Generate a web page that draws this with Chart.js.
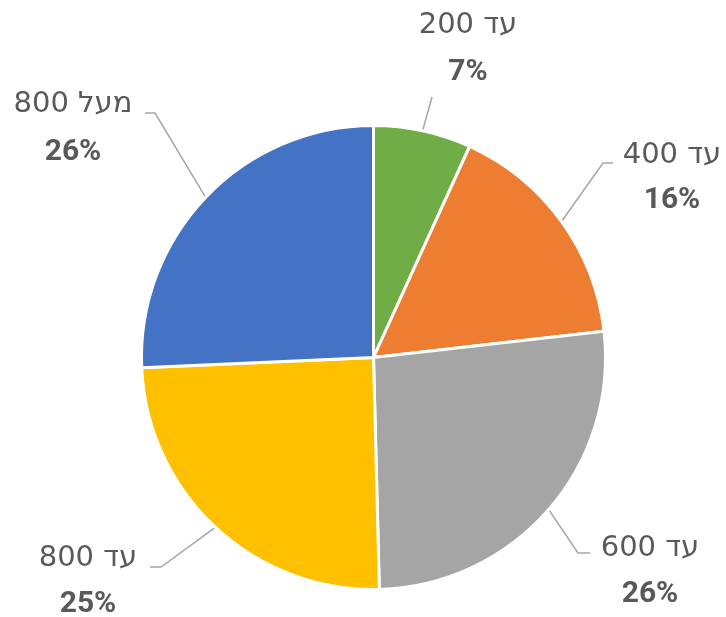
<!DOCTYPE html>
<html>
<head>
<meta charset="utf-8">
<script src="https://cdn.jsdelivr.net/npm/chart.js@4/dist/chart.umd.min.js"></script>
<style>
html,body{margin:0;padding:0;background:#fff;}
#wrap{width:726px;height:617px;position:relative;}
</style>
</head>
<body>
<div id="wrap"><canvas id="c" width="726" height="617"></canvas></div>
<script>
const categories = ["עד 200", "עד 400", "עד 600", "עד 800", "מעל 800"];
const shareValues = [6.8, 16.4, 26.4, 24.7, 25.7];
const sliceColors = ["#70AD47", "#ED7D31", "#A5A5A5", "#FFC000", "#4472C4"];

// Label layout (elbow point of leader, end of horizontal tail, label centre)
const labelLayout = [
  {elbow:[432,97], tail:null, cx:468, cy1:25, cy2:72},
  {elbow:[603,163], tail:[613,163], cx:672, cy1:155, cy2:200},
  {elbow:[578,553], tail:[590,553], cx:650, cy1:548, cy2:594},
  {elbow:[161,567], tail:[150,567], cx:88, cy1:558, cy2:604},
  {elbow:[155,113], tail:[145,113], cx:73, cy1:104, cy2:152}
];

const labelPlugin = {
  id: 'outerLabels',
  afterDatasetsDraw(chart) {
    const ctx = chart.ctx;
    const meta = chart.getDatasetMeta(0);
    const ds = chart.data.datasets[0];
    const total = ds.data.reduce((a, b) => a + b, 0);
    meta.data.forEach((arc, i) => {
      const p = arc.getProps(['x','y','startAngle','endAngle','outerRadius'], true);
      const mid = (p.startAngle + p.endAngle) / 2;
      const r = p.outerRadius + 1.5;
      const ex = p.x + Math.cos(mid) * r;
      const ey = p.y + Math.sin(mid) * r;
      const L = labelLayout[i];
      ctx.save();
      ctx.strokeStyle = '#A6A6A6';
      ctx.lineWidth = 1.5;
      ctx.beginPath();
      ctx.moveTo(ex, ey);
      ctx.lineTo(L.elbow[0], L.elbow[1]);
      if (L.tail) ctx.lineTo(L.tail[0], L.tail[1]);
      ctx.stroke();
      ctx.fillStyle = '#595959';
      ctx.textAlign = 'center';
      ctx.textBaseline = 'middle';
      ctx.direction = 'rtl';
      ctx.font = '29px "DejaVu Sans"';
      ctx.fillText(chart.data.labels[i], L.cx, L.cy1);
      ctx.direction = 'ltr';
      ctx.font = 'bold 30px Roboto';
      ctx.fillText(Math.round(ds.data[i] / total * 100) + '%', L.cx, L.cy2);
      ctx.restore();
    });
  }
};

new Chart(document.getElementById('c'), {
  type: 'pie',
  data: {
    labels: categories,
    datasets: [{
      data: shareValues,
      backgroundColor: sliceColors,
      borderColor: '#FFFFFF',
      borderWidth: 3
    }]
  },
  options: {
    responsive: false,
    animation: false,
    layout: {padding: {left: 140, right: 119, top: 124, bottom: 26}},
    plugins: {legend: {display: false}, tooltip: {enabled: false}}
  },
  plugins: [labelPlugin]
});
</script>
</body>
</html>
